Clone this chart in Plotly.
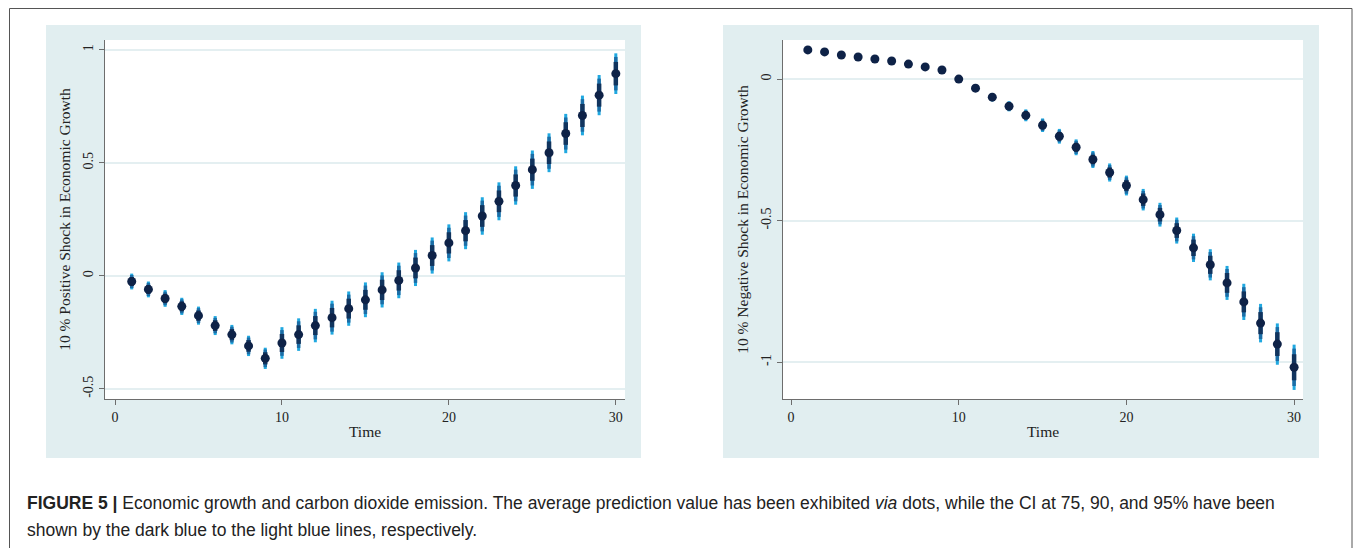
import plotly.graph_objects as go

# data
time = list(range(1, 31))

pos_mean = [-0.025, -0.06, -0.10, -0.135, -0.176, -0.22, -0.26, -0.31, -0.365, -0.297,
            -0.26, -0.22, -0.185, -0.145, -0.106, -0.062, -0.02, 0.035, 0.09, 0.146,
            0.20, 0.265, 0.33, 0.40, 0.47, 0.545, 0.63, 0.71, 0.80, 0.895]
pos_ci95 = [0.035, 0.035, 0.037, 0.038, 0.040, 0.042, 0.043, 0.045, 0.047, 0.070,
            0.072, 0.074, 0.075, 0.076, 0.077, 0.078, 0.079, 0.080, 0.080, 0.082,
            0.082, 0.083, 0.084, 0.085, 0.085, 0.086, 0.087, 0.088, 0.089, 0.090]
pos_ci90 = [0.029, 0.029, 0.030, 0.031, 0.033, 0.034, 0.035, 0.037, 0.039, 0.057,
            0.059, 0.061, 0.062, 0.062, 0.063, 0.064, 0.065, 0.066, 0.066, 0.067,
            0.067, 0.068, 0.069, 0.070, 0.070, 0.071, 0.071, 0.072, 0.073, 0.074]
pos_ci75 = [0.020, 0.020, 0.021, 0.022, 0.023, 0.024, 0.025, 0.026, 0.027, 0.040,
            0.041, 0.042, 0.043, 0.044, 0.044, 0.045, 0.045, 0.046, 0.046, 0.047,
            0.047, 0.048, 0.048, 0.049, 0.049, 0.050, 0.050, 0.051, 0.051, 0.052]

neg_mean = [0.103, 0.096, 0.085, 0.078, 0.071, 0.064, 0.053, 0.043, 0.032, 0.0,
            -0.032, -0.064, -0.096, -0.128, -0.163, -0.202, -0.241, -0.284, -0.33, -0.376,
            -0.426, -0.479, -0.535, -0.596, -0.656, -0.72, -0.787, -0.862, -0.936, -1.018]
neg_ci95 = [0.004, 0.004, 0.004, 0.004, 0.004, 0.004, 0.004, 0.004, 0.004, 0.008,
            0.012, 0.015, 0.018, 0.021, 0.024, 0.026, 0.028, 0.030, 0.032, 0.035,
            0.038, 0.042, 0.046, 0.050, 0.055, 0.060, 0.064, 0.068, 0.073, 0.080]
neg_ci90 = [0.003, 0.003, 0.003, 0.003, 0.003, 0.003, 0.003, 0.003, 0.003, 0.007,
            0.010, 0.012, 0.015, 0.017, 0.020, 0.021, 0.023, 0.025, 0.026, 0.029,
            0.031, 0.034, 0.038, 0.041, 0.045, 0.049, 0.052, 0.056, 0.060, 0.066]
neg_ci75 = [0.002, 0.002, 0.002, 0.002, 0.002, 0.002, 0.002, 0.002, 0.002, 0.005,
            0.007, 0.009, 0.010, 0.012, 0.014, 0.015, 0.016, 0.017, 0.018, 0.020,
            0.022, 0.024, 0.026, 0.029, 0.032, 0.035, 0.037, 0.039, 0.042, 0.046]

x_ticks = [0, 10, 20, 30]
pos_yticks = [-0.5, 0, 0.5, 1]
pos_ylabels = ['-0.5', '0', '0.5', '1']
neg_yticks = [-1, -0.5, 0]
neg_ylabels = ['-1', '-0.5', '0']

caption1 = ('<b>FIGURE 5 |</b> Economic growth and carbon dioxide emission. The average prediction '
            'value has been exhibited <i>via</i> dots, while the CI at 75, 90, and 95% have been')
caption2 = 'shown by the dark blue to the light blue lines, respectively.'

W, H = 1355, 548
panel_bg = '#e1eef0'
grid_c = '#e4eff1'
serif = 'Liberation Serif'


def add_panel(fig, xa, ya, mean, c95, c90, c75):
    levels = [(c95, '#20a8e0', 3), (c90, '#1b6da6', 3.5), (c75, '#11345e', 4.5)]
    for arr, col, th in levels:
        fig.add_trace(go.Scatter(
            x=time, y=mean, mode='markers', xaxis=xa, yaxis=ya,
            marker=dict(size=1, color='rgba(0,0,0,0)'),
            error_y=dict(type='data', array=arr, symmetric=True, color=col,
                         thickness=th, width=0),
            showlegend=False, hoverinfo='skip'))
    fig.add_trace(go.Scatter(
        x=time, y=mean, mode='markers', xaxis=xa, yaxis=ya,
        marker=dict(size=9, color='#0e2247'), showlegend=False))


fig = go.Figure()
add_panel(fig, 'x', 'y', pos_mean, pos_ci95, pos_ci90, pos_ci75)
add_panel(fig, 'x2', 'y2', neg_mean, neg_ci95, neg_ci90, neg_ci75)

ydom = [1 - 399 / H, 1 - 40 / H]
axis_common = dict(showline=True, linecolor='#6d6d6d', linewidth=1, ticks='outside',
                   ticklen=5, tickcolor='#6d6d6d', zeroline=False,
                   tickfont=dict(family=serif, size=14, color='#222'))
title_font = dict(family=serif, size=15.5, color='#222')

fig.update_layout(
    width=W, height=H,
    margin=dict(l=0, r=0, t=0, b=0),
    paper_bgcolor='white', plot_bgcolor='white',
    xaxis=dict(domain=[105 / W, 625 / W], range=[-0.6, 30.55], tickvals=x_ticks,
               showgrid=False, anchor='y',
               title=dict(text='Time', font=title_font, standoff=2),
               **axis_common),
    yaxis=dict(domain=ydom, range=[-0.545, 1.044], tickvals=pos_yticks,
               ticktext=pos_ylabels, tickangle=-90, showgrid=True, gridcolor=grid_c,
               gridwidth=1.5, anchor='x',
               title=dict(text='10 % Positive Shock in Economic Growth',
                          font=title_font, standoff=6),
               **axis_common),
    xaxis2=dict(domain=[783 / W, 1303 / W], range=[-0.48, 30.53], tickvals=x_ticks,
                showgrid=False, anchor='y2',
                title=dict(text='Time', font=title_font, standoff=2),
                **axis_common),
    yaxis2=dict(domain=ydom, range=[-1.13, 0.138], tickvals=neg_yticks,
                ticktext=neg_ylabels, tickangle=-90, showgrid=True, gridcolor=grid_c,
                gridwidth=1.5, anchor='x2',
                title=dict(text='10 % Negative Shock in Economic Growth',
                           font=title_font, standoff=6),
                **axis_common),
)

# panel backgrounds and outer frame
for x0, x1 in [(46, 641), (723, 1319)]:
    fig.add_shape(type='rect', xref='paper', yref='paper', layer='below',
                  x0=x0 / W, x1=x1 / W, y0=1 - 458 / H, y1=1 - 25 / H,
                  fillcolor=panel_bg, line=dict(width=0))
for x0, x1 in [(105, 625), (783, 1303)]:
    fig.add_shape(type='rect', xref='paper', yref='paper', layer='below',
                  x0=x0 / W, x1=x1 / W, y0=ydom[0], y1=ydom[1],
                  fillcolor='white', line=dict(width=0))
fig.add_shape(type='rect', xref='paper', yref='paper', layer='below',
              x0=9.5 / W, x1=1352 / W, y0=-0.1, y1=1 - 8.5 / H,
              fillcolor='rgba(0,0,0,0)', line=dict(color='#555', width=1))

for txt, ypix in [(caption1, 503), (caption2, 530)]:
    fig.add_annotation(text=txt, xref='paper', yref='paper', x=25 / W, y=1 - ypix / H,
                       xanchor='left', yanchor='middle', showarrow=False,
                       font=dict(family='Liberation Sans', size=17.5, color='#222'))

fig.write_html('out.html', config={'displayModeBar': False},
               post_script="document.body.style.margin='0';")
